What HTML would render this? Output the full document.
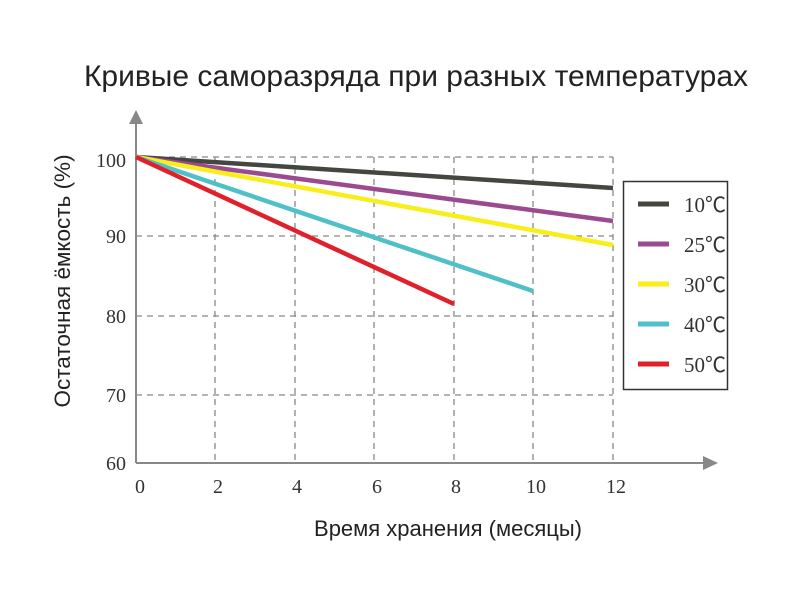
<!DOCTYPE html>
<html><head><meta charset="utf-8"><style>body{margin:0;background:#fff}</style></head><body>
<svg width="800" height="600" xmlns="http://www.w3.org/2000/svg">
<rect width="800" height="600" fill="#fff"/>
<text x="416" y="86" text-anchor="middle" font-family="Liberation Sans, sans-serif" font-size="30" fill="#222">Кривые саморазряда при разных температурах</text>
<g stroke="#888" stroke-width="1.3" stroke-dasharray="6,5" fill="none">
<line x1="136" y1="157" x2="613" y2="157"/>
<line x1="136" y1="236" x2="613" y2="236"/>
<line x1="136" y1="316" x2="613" y2="316"/>
<line x1="136" y1="395" x2="613" y2="395"/>
<line x1="215" y1="157" x2="215" y2="463"/>
<line x1="295" y1="157" x2="295" y2="463"/>
<line x1="374" y1="157" x2="374" y2="463"/>
<line x1="454" y1="157" x2="454" y2="463"/>
<line x1="533" y1="157" x2="533" y2="463"/>
<line x1="613" y1="157" x2="613" y2="463"/>
</g>
<g stroke="#888" stroke-width="2">
<line x1="136" y1="463" x2="136" y2="122"/>
<line x1="136" y1="463" x2="705" y2="463"/>
</g>
<polygon points="136,110 129,124 143,124" fill="#888"/>
<polygon points="718,463 703,456 703,470" fill="#888"/>
<g stroke-width="4.5" fill="none" stroke-linecap="butt">
<line x1="136" y1="157" x2="613" y2="188" stroke="#444640"/>
<line x1="136" y1="157" x2="613" y2="221" stroke="#9b4a90"/>
<line x1="136" y1="157" x2="613" y2="245" stroke="#f7ee1a"/>
<line x1="136" y1="157" x2="533" y2="291" stroke="#4fc0c8"/>
<line x1="136" y1="157" x2="454" y2="304" stroke="#e0202a"/>
</g>
<g font-family="Liberation Serif, serif" font-size="20" fill="#333">
<text x="126" y="167" text-anchor="end">100</text>
<text x="126" y="243" text-anchor="end">90</text>
<text x="126" y="323" text-anchor="end">80</text>
<text x="126" y="402" text-anchor="end">70</text>
<text x="126" y="470" text-anchor="end">60</text>
<text x="140" y="493" text-anchor="middle">0</text>
<text x="218" y="493" text-anchor="middle">2</text>
<text x="297" y="493" text-anchor="middle">4</text>
<text x="377" y="493" text-anchor="middle">6</text>
<text x="456" y="493" text-anchor="middle">8</text>
<text x="536" y="493" text-anchor="middle">10</text>
<text x="616" y="493" text-anchor="middle">12</text>
</g>
<text x="448" y="536" text-anchor="middle" font-family="Liberation Sans, sans-serif" font-size="22" fill="#222">Время хранения (месяцы)</text>
<text transform="translate(70,281) rotate(-90)" text-anchor="middle" font-family="Liberation Sans, sans-serif" font-size="22.5" fill="#222">Остаточная ёмкость (%)</text>
<rect x="623.5" y="181.5" width="104" height="208" fill="#fff" stroke="#333" stroke-width="1.5"/>
<g stroke-width="5">
<line x1="638" y1="204" x2="669" y2="204" stroke="#444640"/>
<line x1="638" y1="244" x2="669" y2="244" stroke="#9b4a90"/>
<line x1="638" y1="284" x2="669" y2="284" stroke="#f7ee1a"/>
<line x1="638" y1="324" x2="669" y2="324" stroke="#4fc0c8"/>
<line x1="638" y1="364" x2="669" y2="364" stroke="#e0202a"/>
</g>
<g font-family="Liberation Serif, 'Noto Sans CJK SC', serif" font-size="21" fill="#333">
<text x="684" y="212">10℃</text>
<text x="684" y="252">25℃</text>
<text x="684" y="292">30℃</text>
<text x="684" y="332">40℃</text>
<text x="684" y="372">50℃</text>
</g>
</svg>
</body></html>
